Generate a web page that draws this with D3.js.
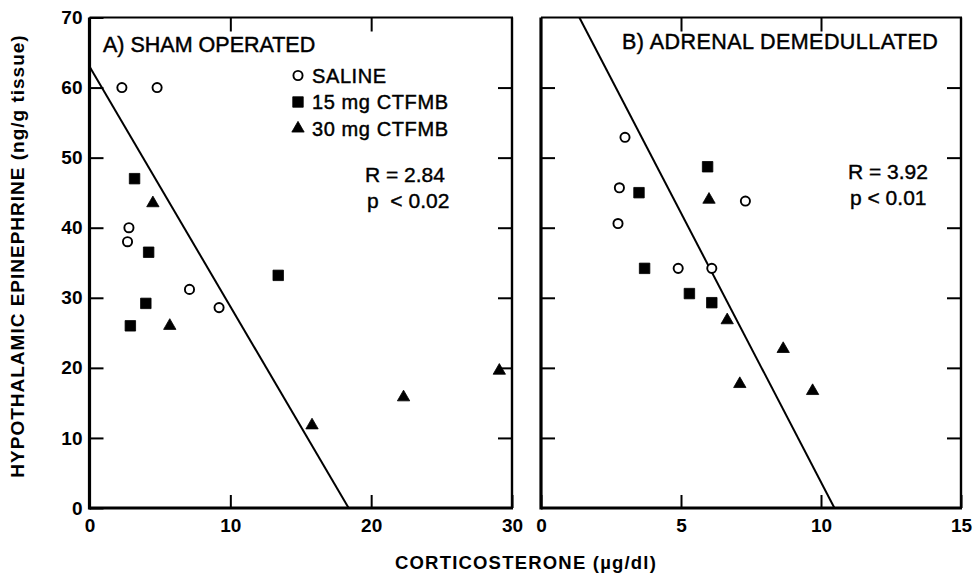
<!DOCTYPE html>
<html>
<head>
<meta charset="utf-8">
<script src="https://cdn.jsdelivr.net/npm/d3@7"></script>
<style>
  body { margin: 0; background: #fff; }
  svg { font-family: "Liberation Sans", Arial, sans-serif; }
</style>
</head>
<body>
<script>
// ---- data ----
// panel A: sham operated (x = corticosterone, y = epinephrine)
var shamSaline = [[2.3, 60], [4.8, 60], [2.8, 40], [2.7, 38], [7.1, 31.2], [9.2, 28.6]];
var sham15 = [[3.2, 47], [4.2, 36.5], [13.4, 33.2], [4.0, 29.2], [2.9, 26]];
var sham30 = [[4.5, 43.5], [5.7, 26], [15.8, 11.8], [22.3, 15.8], [29.1, 19.6]];
var shamLine = [[0, 63], [18.4, 0]];

// panel B: adrenal demedullated
var demedSaline = [[3.0, 52.9], [2.8, 45.7], [2.75, 40.6], [7.3, 43.8], [4.9, 34.2], [6.1, 34.2]];
var demed15 = [[3.5, 45], [5.95, 48.7], [3.7, 34.2], [5.3, 30.6], [6.1, 29.3]];
var demed30 = [[6.0, 44], [6.65, 26.8], [8.65, 22.7], [7.1, 17.7], [9.7, 16.7]];
var demedLine = [[1.37, 70], [10.48, 0]];

var yTicks = [0, 10, 20, 30, 40, 50, 60, 70];
var xTicksA = [0, 10, 20, 30];
var xTicksB = [0, 5, 10, 15];
var legendLabels = ["SALINE", "15 mg CTFMB", "30 mg CTFMB"];

var W = 973, H = 577;
var svg = d3.select("body").append("svg")
  .attr("width", W).attr("height", H);

var y = d3.scaleLinear().domain([0, 70]).range([508, 17.5]);

var sym = {
  saline: d3.symbol().type(d3.symbolCircle).size(66),
  s15: d3.symbol().type(d3.symbolSquare).size(110),
  s30: d3.symbol().type(d3.symbolTriangle).size(66)
};

function drawPanel(opt) {
  var x = d3.scaleLinear().domain([0, opt.xmax]).range([opt.left, opt.right]);
  var g = svg.append("g");

  // inward ticks
  g.append("g").attr("transform", "translate(" + opt.left + ",0)")
    .call(d3.axisLeft(y).tickValues(opt.yLabels ? yTicks : yTicks.slice(1, 7))
      .tickSizeInner(-14).tickSizeOuter(0).tickPadding(7)
      .tickFormat(opt.yLabels ? d3.format("d") : ""))
    .call(function(a) { a.select(".domain").remove(); });
  g.append("g").attr("transform", "translate(" + opt.right + ",0)")
    .call(d3.axisRight(y).tickValues(yTicks.slice(1, 7))
      .tickSizeInner(-14).tickSizeOuter(0).tickFormat(""))
    .call(function(a) { a.select(".domain").remove(); });
  g.append("g").attr("transform", "translate(0," + y(0) + ")")
    .call(d3.axisBottom(x).tickValues(opt.xTicks)
      .tickSizeInner(-13).tickSizeOuter(0).tickPadding(11))
    .call(function(a) { a.select(".domain").remove(); });
  g.append("g").attr("transform", "translate(0," + y(70) + ")")
    .call(d3.axisTop(x).tickValues(opt.xTicks.slice(1, 3))
      .tickSizeInner(-14).tickSizeOuter(0).tickFormat(""))
    .call(function(a) { a.select(".domain").remove(); });

  g.selectAll(".tick line").attr("stroke", "#000").attr("stroke-width", 2);
  g.selectAll(".tick text").attr("fill", "#000")
    .style("font-size", "19px").style("font-weight", "bold");

  // frame: left/bottom heavier
  g.append("line").attr("x1", opt.left).attr("x2", opt.left)
    .attr("y1", y(70)).attr("y2", y(0) + 1.5).attr("stroke", "#000").attr("stroke-width", 3.2);
  g.append("line").attr("x1", opt.left).attr("x2", opt.right + 1)
    .attr("y1", y(0)).attr("y2", y(0)).attr("stroke", "#000").attr("stroke-width", 3.2);
  g.append("line").attr("x1", opt.left).attr("x2", opt.right + 1)
    .attr("y1", y(70)).attr("y2", y(70)).attr("stroke", "#000").attr("stroke-width", 2.2);
  g.append("line").attr("x1", opt.right).attr("x2", opt.right)
    .attr("y1", y(70)).attr("y2", y(0)).attr("stroke", "#000").attr("stroke-width", 2.4);

  // regression line
  g.append("path").datum(opt.line)
    .attr("d", d3.line().x(function(d) { return x(d[0]); }).y(function(d) { return y(d[1]); }))
    .attr("fill", "none").attr("stroke", "#000").attr("stroke-width", 2);

  // points
  var groups = [
    { data: opt.saline, s: sym.saline, fill: "#fff" },
    { data: opt.s15, s: sym.s15, fill: "#000" },
    { data: opt.s30, s: sym.s30, fill: "#000" }
  ];
  groups.forEach(function(grp) {
    g.selectAll(null).data(grp.data).enter().append("path")
      .attr("d", grp.s)
      .attr("transform", function(d) { return "translate(" + x(d[0]) + "," + y(d[1]) + ")"; })
      .attr("fill", grp.fill).attr("stroke", "#000")
      .attr("stroke-width", grp.fill === "#fff" ? 1.9 : 0.8);
  });

  g.append("text").attr("x", opt.titleX).attr("y", opt.titleY)
    .style("font-size", "21.5px").style("letter-spacing", opt.titleSp)
    .attr("stroke", "#000").attr("stroke-width", 0.45)
    .text(opt.title);

  g.append("text").attr("x", opt.statX).attr("y", opt.statY)
    .style("font-size", "21px").attr("stroke", "#000").attr("stroke-width", 0.4)
    .text(opt.r);
  g.append("text").attr("x", opt.statX + 2).attr("y", opt.statY + 26)
    .style("font-size", "21px").attr("stroke", "#000").attr("stroke-width", 0.4)
    .attr("xml:space", "preserve")
    .text(opt.p);
  return x;
}

drawPanel({
  left: 89.5, right: 512, xmax: 30, xTicks: xTicksA, yLabels: true,
  saline: shamSaline, s15: sham15, s30: sham30, line: shamLine,
  title: "A) SHAM OPERATED", titleX: 103, titleY: 52, titleSp: "0px",
  r: "R = 2.84", p: "p  < 0.02", statX: 365, statY: 182
});

drawPanel({
  left: 541, right: 961, xmax: 15, xTicks: xTicksB, yLabels: false,
  saline: demedSaline, s15: demed15, s30: demed30, line: demedLine,
  title: "B) ADRENAL DEMEDULLATED", titleX: 622, titleY: 48.5, titleSp: "0.45px",
  r: "R = 3.92", p: "p < 0.01", statX: 848, statY: 179
});

// legend (panel A)
var legSyms = [sym.saline, sym.s15, sym.s30];
var legend = svg.append("g");
legendLabels.forEach(function(lab, i) {
  var yy = 75.5 + i * 26.5;
  legend.append("path").attr("d", legSyms[i])
    .attr("transform", "translate(298," + yy + ")")
    .attr("fill", i === 0 ? "#fff" : "#000").attr("stroke", "#000")
    .attr("stroke-width", i === 0 ? 1.9 : 0.8);
  legend.append("text").attr("x", 312).attr("y", yy + 7)
    .style("font-size", "20px").style("letter-spacing", "0.6px")
    .attr("stroke", "#000").attr("stroke-width", 0.45)
    .text(lab);
});

// axis titles
svg.append("text")
  .attr("transform", "translate(24,256) rotate(-90)")
  .attr("text-anchor", "middle")
  .style("font-size", "19px").style("font-weight", "bold").style("letter-spacing", "1px")
  .text("HYPOTHALAMIC EPINEPHRINE (ng/g tissue)");

svg.append("text")
  .attr("x", 526).attr("y", 569)
  .attr("text-anchor", "middle")
  .style("font-size", "18.5px").style("font-weight", "bold").style("letter-spacing", "1.2px")
  .text("CORTICOSTERONE (\u00b5g/dl)");
</script>
</body>
</html>
